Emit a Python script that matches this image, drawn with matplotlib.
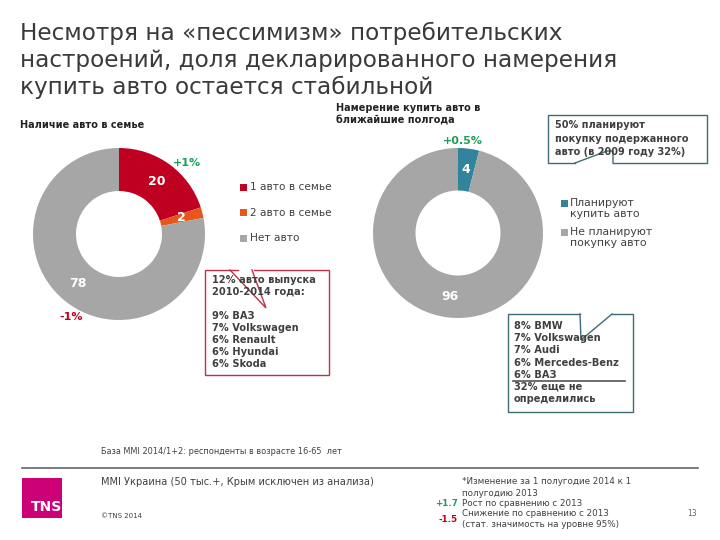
import matplotlib
matplotlib.use("Agg")
import matplotlib.pyplot as plt
from matplotlib.patches import Rectangle

# ---- data ------------------------------------------------------------------
own_labels = ["1 авто в семье", "2 авто в семье", "Нет авто"]
own_values = [20, 2, 78]
own_colors = ["#C00020", "#E8561A", "#A6A6A6"]

plan_labels = ["Планируют\nкупить авто", "Не планируют\nпокупку авто"]
plan_values = [4, 96]
plan_colors = ["#31849B", "#A6A6A6"]

own_box_lines = ["12% авто выпуска", "2010-2014 года:", "", "9% ВАЗ", "7% Volkswagen",
                 "6% Renault", "6% Hyundai", "6% Skoda"]
plan_brands = ["8% BMW", "7% Volkswagen", "7% Audi", "6% Mercedes-Benz", "6% ВАЗ"]

DARK = "#404040"
GREEN = "#1E9E5A"
RED = "#C00020"
TEAL_EDGE = "#3F6C74"
BOX_RED = "#C0304A"

fig = plt.figure(figsize=(7.2, 5.4), dpi=100)
W, H = 720, 540

# overlay axes in pixel coordinates (y down)
ov = fig.add_axes([0, 0, 1, 1], zorder=3)
ov.set_xlim(0, W)
ov.set_ylim(H, 0)
ov.axis("off")
ov.patch.set_alpha(0)


def donut(cx, cy, r, values, colors):
    a = fig.add_axes([(cx - r) / W, (H - cy - r) / H, 2 * r / W, 2 * r / H])
    a.pie(values, colors=colors, startangle=90, counterclock=False, radius=1,
          wedgeprops=dict(width=0.5, edgecolor="none"),
          autopct=lambda p: f"{p:.0f}", pctdistance=0.75,
          textprops=dict(color="white", fontsize=9, fontweight="bold"))
    a.set_xlim(-1, 1)
    a.set_ylim(-1, 1)
    a.set_aspect("equal")
    a.axis("off")
    return a


donut(119, 234, 86, own_values, own_colors)
donut(458, 233, 85, plan_values, plan_colors)

# ---- title -----------------------------------------------------------------
for i, line in enumerate(["Несмотря на «пессимизм» потребительских",
                          "настроений, доля декларированного намерения",
                          "купить авто остается стабильной"]):
    ov.text(20, 33 + i * 27, line, fontsize=16.7, color="#3a3a3a", va="center", ha="left")

ov.text(20, 125, "Наличие авто в семье", fontsize=7, fontweight="bold", color="#222222",
        va="center")
ov.text(336, 114, "Намерение купить авто в\nближайшие полгода", fontsize=7,
        fontweight="bold", color="#222222", va="center", linespacing=1.3)

# change markers
ov.text(187, 163, "+1%", fontsize=8, fontweight="bold", color=GREEN, ha="center", va="center")
ov.text(71, 317, "-1%", fontsize=8, fontweight="bold", color=RED, ha="center", va="center")
ov.text(463, 141, "+0.5%", fontsize=8, fontweight="bold", color=GREEN, ha="center", va="center")

# ---- legends ---------------------------------------------------------------
for i, (lab, col) in enumerate(zip(own_labels, own_colors)):
    y = 187 + i * 25.5
    ov.add_patch(Rectangle((240, y - 3.5), 7, 7, facecolor=col, edgecolor="none"))
    ov.text(250, y, lab, fontsize=7.6, color=DARK, va="center")

for i, (lab, col) in enumerate(zip(plan_labels, plan_colors)):
    y = 203 + i * 29
    ov.add_patch(Rectangle((561, y - 3.5), 7, 7, facecolor=col, edgecolor="none"))
    ov.text(570, y - 5, lab, fontsize=7.8, color=DARK, va="top", linespacing=1.15)


# ---- callout boxes ---------------------------------------------------------
def poly(xs, ys, color, lw=1.0):
    ov.plot(xs, ys, color=color, lw=lw, solid_joinstyle="miter", zorder=4)


# left box (pointer tail drawn inside, as in the slide)
ov.add_patch(Rectangle((205, 270), 124, 105, facecolor="white", edgecolor="none", zorder=3))
poly([238, 205, 205, 329, 329, 254], [270, 270, 375, 375, 270, 270], BOX_RED)
poly([230, 266, 252], [270, 308, 270], BOX_RED)
for i, line in enumerate(own_box_lines):
    ov.text(212, 280 + i * 12, line, fontsize=7.1, fontweight="bold", color=DARK,
            va="center", zorder=5)

# right top box
ov.add_patch(Rectangle((548, 115), 159, 48, facecolor="white", edgecolor="none", zorder=3))
poly([575, 548, 548, 707, 707, 613], [163, 163, 115, 115, 163, 163], TEAL_EDGE)
poly([575, 607, 613, 613], [163, 151, 151, 163], TEAL_EDGE)
for i, line in enumerate(["50% планируют", "покупку подержанного", "авто (в 2009 году 32%)"]):
    ov.text(555, 125 + i * 13.5, line, fontsize=7, fontweight="bold", color=DARK,
            va="center", zorder=5)

# right bottom box
ov.add_patch(Rectangle((508, 314), 125, 98, facecolor="white", edgecolor="none", zorder=3))
poly([580, 508, 508, 633, 633, 612], [314, 314, 412, 412, 314, 314], TEAL_EDGE)
poly([580, 581, 612], [314, 340, 314], TEAL_EDGE)
for i, line in enumerate(plan_brands):
    ov.text(514, 326 + i * 12.2, line, fontsize=7.1, fontweight="bold", color=DARK,
            va="center", zorder=5)
ov.plot([513, 625], [381, 381], color="#555555", lw=1.2, zorder=5)
ov.text(514, 387, "32% еще не", fontsize=7.1, fontweight="bold", color=DARK, va="center", zorder=5)
ov.text(514, 399, "определились", fontsize=7.1, fontweight="bold", color=DARK, va="center", zorder=5)

# ---- footer ----------------------------------------------------------------
ov.text(101, 451, "База MMI 2014/1+2: респонденты в возрасте 16-65  лет", fontsize=5.9,
        color=DARK, va="center")
ov.plot([22, 698], [468, 468], color="#666666", lw=1.2)
ov.add_patch(Rectangle((22, 478), 40, 40, facecolor="#CC0077", edgecolor="none"))
ov.text(31, 507, "TNS", fontsize=10, fontweight="bold", color="white", va="center", ha="left")
ov.text(101, 482, "MMI Украина (50 тыс.+, Крым исключен из анализа)", fontsize=7.1,
        color=DARK, va="center")
ov.text(101, 516, "©TNS 2014", fontsize=5, color=DARK, va="center")

ov.text(462, 482, "*Изменение за 1 полугодие 2014 к 1", fontsize=6.3, color=DARK, va="center")
ov.text(462, 493, "полугодию 2013", fontsize=6.3, color=DARK, va="center")
ov.text(462, 503.5, "Рост по сравнению с 2013", fontsize=6.3, color=DARK, va="center")
ov.text(462, 514, "Снижение по сравнению с 2013", fontsize=6.3, color=DARK, va="center")
ov.text(462, 524.5, "(стат. значимость на уровне 95%)", fontsize=6.3, color=DARK, va="center")
ov.text(458, 503.5, "+1.7", fontsize=6.3, fontweight="bold", color=GREEN, va="center", ha="right")
ov.text(458, 519, "-1.5", fontsize=6.3, fontweight="bold", color=RED, va="center", ha="right")
ov.text(697, 513, "13", fontsize=5.5, color="#666666", va="center", ha="right")

fig.savefig("out.png", dpi=100, facecolor="white")
